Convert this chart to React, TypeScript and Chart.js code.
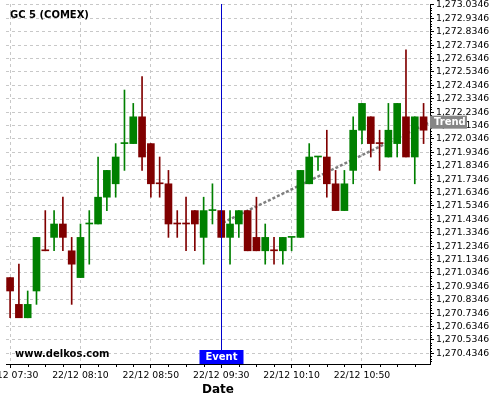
import React, { useEffect, useRef } from "react";
import { Chart, registerables } from "chart.js";

Chart.register(...registerables);

// ---- data ----
const candleTimes = [
  "07:30", "07:35", "07:40", "07:45", "07:50", "07:55", "08:00", "08:05",
  "08:10", "08:15", "08:20", "08:25", "08:30", "08:35", "08:40", "08:45",
  "08:50", "08:55", "09:00", "09:05", "09:10", "09:15", "09:20", "09:25",
  "09:30", "09:35", "09:40", "09:45", "09:50", "09:55", "10:00", "10:05",
  "10:10", "10:15", "10:20", "10:25", "10:30", "10:35", "10:40", "10:45",
  "10:50", "10:55", "11:00", "11:05", "11:10", "11:15", "11:20", "11:25",
];

const opens = [
  1271.0, 1270.8, 1270.7, 1270.9, 1271.2, 1271.3, 1271.4, 1271.2,
  1271.0, 1271.4, 1271.4, 1271.6, 1271.7, 1272.0, 1272.0, 1272.2,
  1272.0, 1271.7, 1271.7, 1271.4, 1271.4, 1271.5, 1271.3, 1271.5,
  1271.5, 1271.3, 1271.4, 1271.5, 1271.3, 1271.2, 1271.2, 1271.2,
  1271.3, 1271.3, 1271.7, 1271.9, 1271.9, 1271.7, 1271.5, 1271.8,
  1272.1, 1272.2, 1272.0, 1271.9, 1272.0, 1272.2, 1271.9, 1272.2,
];
const highs = [
  1271.0, 1271.1, 1270.9, 1271.3, 1271.5, 1271.5, 1271.6, 1271.3,
  1271.4, 1271.5, 1271.9, 1271.8, 1272.0, 1272.4, 1272.3, 1272.5,
  1272.0, 1271.9, 1271.8, 1271.5, 1271.6, 1271.5, 1271.6, 1271.7,
  1271.5, 1271.5, 1271.5, 1271.5, 1271.6, 1271.4, 1271.3, 1271.3,
  1271.3, 1271.8, 1272.0, 1271.9, 1272.1, 1271.8, 1271.8, 1272.2,
  1272.3, 1272.2, 1272.1, 1272.3, 1272.3, 1272.7, 1272.2, 1272.3,
];
const lows = [
  1270.7, 1270.7, 1270.7, 1270.8, 1271.2, 1271.2, 1271.2, 1270.8,
  1271.0, 1271.1, 1271.4, 1271.5, 1271.6, 1271.8, 1272.0, 1271.8,
  1271.6, 1271.6, 1271.3, 1271.3, 1271.2, 1271.2, 1271.1, 1271.4,
  1271.3, 1271.1, 1271.3, 1271.2, 1271.2, 1271.1, 1271.1, 1271.1,
  1271.2, 1271.3, 1271.7, 1271.8, 1271.6, 1271.5, 1271.5, 1271.7,
  1272.0, 1271.9, 1271.8, 1271.9, 1271.9, 1271.9, 1271.7, 1272.0,
];
const closes = [
  1270.9, 1270.7, 1270.8, 1271.3, 1271.2, 1271.4, 1271.3, 1271.1,
  1271.3, 1271.4, 1271.6, 1271.8, 1271.9, 1272.0, 1272.2, 1271.9,
  1271.7, 1271.7, 1271.4, 1271.4, 1271.4, 1271.4, 1271.5, 1271.5,
  1271.3, 1271.4, 1271.5, 1271.2, 1271.2, 1271.3, 1271.2, 1271.3,
  1271.3, 1271.8, 1271.9, 1271.9, 1271.7, 1271.5, 1271.7, 1272.1,
  1272.3, 1272.0, 1272.0, 1272.1, 1272.3, 1271.9, 1272.2, 1272.1,
];
// 1 = green (up) candle, 0 = red (down) candle
const bullish = [
  0, 0, 1, 1, 0, 1, 0, 0, 1, 1, 1, 1, 1, 1, 1, 0,
  0, 0, 0, 0, 0, 0, 1, 1, 0, 1, 1, 0, 0, 1, 0, 1,
  1, 1, 1, 1, 0, 0, 1, 1, 1, 0, 0, 1, 1, 0, 1, 0,
];

const xTickIndices = [0, 8, 16, 24, 32, 40];
const xTickLabels = ["22/12 07:30", "22/12 08:10", "22/12 08:50", "22/12 09:30", "22/12 10:10", "22/12 10:50"];

const yTickValues = [
  1270.4346, 1270.5346, 1270.6346, 1270.7346, 1270.8346, 1270.9346, 1271.0346,
  1271.1346, 1271.2346, 1271.3346, 1271.4346, 1271.5346, 1271.6346, 1271.7346,
  1271.8346, 1271.9346, 1272.0346, 1272.1346, 1272.2346, 1272.3346, 1272.4346,
  1272.5346, 1272.6346, 1272.7346, 1272.8346, 1272.9346, 1273.0346,
];

const eventIndex = 24;
const eventLabel = "Event";
const trendX = [24.2, 47.73];
const trendY = [1271.41, 1272.16];
const trendLabel = "Trend";
const titleText = "GC 5 (COMEX)";
const watermark = "www.delkos.com";
const xAxisTitle = "Date";

const GREEN = "#008000";
const RED = "#800000";
const FONT = "'DejaVu Sans', Verdana, sans-serif";

const overlayPlugin = {
  id: "overlay",
  afterDraw(chart: any) {
    const { ctx, chartArea, scales } = chart;
    const xs = scales.x;
    const ys = scales.y;
    ctx.save();

    // minor ticks on x axis (every 10 minutes)
    ctx.strokeStyle = "#000";
    ctx.lineWidth = 1;
    ctx.beginPath();
    for (let v = 0; v <= xs.max; v += 2) {
      if (xTickIndices.includes(v)) continue;
      const px = Math.round(xs.getPixelForValue(v)) + 0.5;
      ctx.moveTo(px, chartArea.bottom);
      ctx.lineTo(px, chartArea.bottom + 3);
    }
    // minor ticks on y axis
    const base = yTickValues[0];
    for (let k = -10; k <= 140; k++) {
      if (k % 5 === 0) continue;
      const val = base + k * 0.02;
      if (val < ys.min || val > ys.max) continue;
      const py = Math.round(ys.getPixelForValue(val)) + 0.5;
      ctx.moveTo(chartArea.right, py);
      ctx.lineTo(chartArea.right + 2, py);
    }
    ctx.stroke();

    // event line
    const ex = Math.round(xs.getPixelForValue(eventIndex)) + 0.5;
    ctx.strokeStyle = "#0000cc";
    ctx.lineWidth = 1;
    ctx.beginPath();
    ctx.moveTo(ex, chartArea.top);
    ctx.lineTo(ex, chartArea.bottom);
    ctx.stroke();

    // event box
    ctx.fillStyle = "#0000ff";
    ctx.fillRect(ex - 22, chartArea.bottom - 14, 44, 14);
    ctx.fillStyle = "#ffffff";
    ctx.font = `bold 10px ${FONT}`;
    ctx.textAlign = "center";
    ctx.textBaseline = "middle";
    ctx.fillText(eventLabel, ex, chartArea.bottom - 6.5);

    // trend label
    const ty = ys.getPixelForValue(trendY[1]);
    ctx.fillStyle = "#868686";
    ctx.fillRect(chartArea.right, ty - 6.5, 37, 13);
    ctx.fillStyle = "#ffffff";
    ctx.textAlign = "left";
    ctx.fillText(trendLabel, chartArea.right + 4, ty + 0.5);

    // title
    ctx.fillStyle = "#000";
    ctx.font = `bold 10px ${FONT}`;
    ctx.textAlign = "left";
    ctx.textBaseline = "middle";
    ctx.fillText(titleText, 10, 15.5);

    // watermark
    ctx.fillText(watermark, 15, 354);

    // x axis title
    ctx.font = `bold 12px ${FONT}`;
    ctx.textAlign = "center";
    ctx.fillText(xAxisTitle, (chartArea.left + chartArea.right) / 2, 390);

    ctx.restore();
  },
};

export default function App() {
  const canvasRef = useRef<HTMLCanvasElement | null>(null);

  useEffect(() => {
    if (!canvasRef.current) return;
    const colors = bullish.map((b) => (b ? GREEN : RED));
    const bodyData = candleTimes.map((_, i) => ({ x: i, y: [opens[i], closes[i]] }));
    const wickData = candleTimes.map((_, i) => ({ x: i, y: [lows[i], highs[i]] }));
    const trendData = trendX.map((x, i) => ({ x, y: trendY[i] }));

    const chart = new Chart(canvasRef.current, {
      type: "bar",
      data: {
        datasets: [
          {
            type: "bar",
            data: bodyData as any,
            backgroundColor: colors,
            borderWidth: 0,
            barThickness: 7,
            grouped: false,
            minBarLength: 1,
            order: 1,
          } as any,
          {
            type: "bar",
            data: wickData as any,
            backgroundColor: colors,
            borderWidth: 0,
            barThickness: 1,
            grouped: false,
            order: 2,
          } as any,
          {
            type: "line",
            data: trendData as any,
            borderColor: "#808080",
            borderWidth: 2.5,
            borderDash: [3, 2],
            pointRadius: 0,
            fill: false,
            order: 3,
          } as any,
        ],
      },
      options: {
        animation: false,
        responsive: false,
        maintainAspectRatio: false,
        layout: { padding: { left: 6, top: 4, right: 0, bottom: 0 } },
        plugins: {
          legend: { display: false },
          tooltip: { enabled: false },
          title: { display: false },
        },
        scales: {
          x: {
            type: "linear",
            min: -0.466,
            max: 47.73,
            bounds: "data",
            offset: false,
            grid: {
              offset: false,
              color: "#c8c8c8",
              tickColor: "#000",
              tickLength: 4,
              drawTicks: true,
            },
            border: { display: true, color: "#000", width: 1, dash: [3, 3] },
            ticks: {
              autoSkip: false,
              maxRotation: 0,
              minRotation: 0,
              padding: 2,
              color: "#000",
              font: { family: FONT, size: 9.3 },
              callback: (value: any) => {
                const i = xTickIndices.indexOf(Number(value));
                return i >= 0 ? xTickLabels[i] : "";
              },
            },
            afterBuildTicks: (s: any) => {
              s.ticks = xTickIndices.map((v) => ({ value: v }));
            },
            afterFit: (s: any) => {
              s.height = 36;
              s.paddingLeft = 0;
              s.paddingRight = 0;
            },
          } as any,
          y: {
            type: "linear",
            position: "right",
            min: 1270.355,
            max: 1273.042,
            bounds: "data",
            grid: {
              color: "#c8c8c8",
              tickColor: "#000",
              tickLength: 4,
              drawTicks: true,
            },
            border: { display: true, color: "#000", width: 1, dash: [3, 3] },
            ticks: {
              autoSkip: false,
              padding: 2,
              color: "#000",
              font: { family: FONT, size: 9.3 },
              callback: (value: any) =>
                Number(value).toLocaleString("en-US", {
                  minimumFractionDigits: 4,
                  maximumFractionDigits: 4,
                }),
            },
            afterBuildTicks: (s: any) => {
              s.ticks = yTickValues.map((v) => ({ value: v }));
            },
            afterFit: (s: any) => {
              s.width = 70;
              s.paddingTop = 0;
              s.paddingBottom = 0;
            },
          } as any,
        },
      },
      plugins: [overlayPlugin],
    });
    return () => chart.destroy();
  }, []);

  return (
    <div style={{ position: "fixed", left: 0, top: 0, width: 500, height: 400, background: "#fff" }}>
      <canvas ref={canvasRef} width={500} height={400} style={{ display: "block", width: 500, height: 400 }} />
    </div>
  );
}
